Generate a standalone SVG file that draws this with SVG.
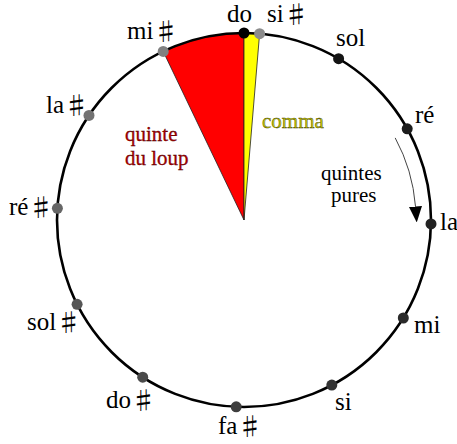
<svg xmlns="http://www.w3.org/2000/svg" width="457" height="444" viewBox="0 0 457 444">
  <style>
    text { font-family: 'Liberation Serif', 'Times New Roman', 'DejaVu Serif', serif; }
    .lbl { font-size: 25px; fill: #000; }
    .sh { font-family: 'Noto Sans CJK JP', 'DejaVu Sans', sans-serif; font-size: 25px; }
    .txt { font-size: 21px; }
    .dot { stroke: none; }
    .wedge { stroke: #222; stroke-width: 0.8; stroke-linejoin: round; }
  </style>
  <defs>
    <marker id="arrowhead" viewBox="0 0 16 13" refX="0" refY="6.5" markerWidth="16" markerHeight="13" markerUnits="userSpaceOnUse" orient="auto">
      <path d="M0,0 L16,6.5 L0,13 Z" fill="#000"/>
    </marker>
  </defs>
  <rect width="457" height="444" fill="#fff"/>

  <g id="wedges">
    <path id="loup" class="wedge" d="M244,220 L163.2,51.4 A187,187 0 0,1 244,33 Z" fill="#ff0000"/>
    <path id="comma-wedge" class="wedge" d="M244,220 L244,33 A187,187 0 0,1 259.6,33.7 Z" fill="#ffff00"/>
  </g>

  <g id="connectors">
    <circle cx="244" cy="220" r="187" fill="none" stroke="#000" stroke-width="2.6"/>
    <path d="M395.2,137.9 A172,172 0 0,1 415.5,206.5" fill="none" stroke="#444" stroke-width="1" marker-end="url(#arrowhead)"/>
  </g>

  <g id="n-do"><circle class="dot" cx="244" cy="33" r="5.5" fill="#000"/><text class="lbl" x="239.5" y="22" text-anchor="middle">do</text></g>
  <g id="n-sol"><circle class="dot" cx="338.6" cy="58.7" r="5.5" fill="#141414"/><text class="lbl" x="336" y="46">sol</text></g>
  <g id="n-re"><circle class="dot" cx="407.2" cy="128.8" r="5.5" fill="#1c1c1c"/><text class="lbl" x="415" y="123">ré</text></g>
  <g id="n-la"><circle class="dot" cx="431" cy="223.9" r="5.5" fill="#222"/><text class="lbl" x="440" y="230">la</text></g>
  <g id="n-mi"><circle class="dot" cx="403.3" cy="318" r="5.5" fill="#2a2a2a"/><text class="lbl" x="414" y="333">mi</text></g>
  <g id="n-si"><circle class="dot" cx="331.8" cy="385.1" r="5.5" fill="#333"/><text class="lbl" x="335" y="410">si</text></g>
  <g id="n-fas"><circle class="dot" cx="236.2" cy="406.8" r="5.5" fill="#3e3e3e"/><text class="lbl" x="218" y="434">fa<tspan class="sh" dy="2">♯</tspan></text></g>
  <g id="n-dos"><circle class="dot" cx="142.7" cy="377.2" r="5.5" fill="#4a4a4a"/><text class="lbl" x="106" y="408">do<tspan class="sh" dy="2">♯</tspan></text></g>
  <g id="n-sols"><circle class="dot" cx="77.1" cy="304.3" r="5.5" fill="#565656"/><text class="lbl" x="27" y="330">sol<tspan class="sh" dy="2">♯</tspan></text></g>
  <g id="n-res"><circle class="dot" cx="57.4" cy="208.3" r="5.5" fill="#666"/><text class="lbl" x="9" y="215">ré<tspan class="sh" dy="2">♯</tspan></text></g>
  <g id="n-las"><circle class="dot" cx="89" cy="115.4" r="5.5" fill="#737373"/><text class="lbl" x="46" y="113">la<tspan class="sh" dy="2">♯</tspan></text></g>
  <g id="n-mis"><circle class="dot" cx="163.2" cy="51.4" r="5.5" fill="#808080"/><text class="lbl" x="127" y="39">mi<tspan class="sh" dy="2">♯</tspan></text></g>
  <g id="n-sis"><circle class="dot" cx="259.6" cy="33.7" r="5.5" fill="#8c8c8c"/><text class="lbl" x="267" y="22">si<tspan class="sh" dy="2">♯</tspan></text></g>

  <g id="annotations">
    <text class="txt" x="125" y="141" fill="#b00000" stroke="#400000" stroke-width="0.3">quinte</text>
    <text class="txt" x="125" y="165" fill="#b00000" stroke="#400000" stroke-width="0.3">du loup</text>
    <text class="txt" x="262" y="128" fill="#c8c800" stroke="#3a3a00" stroke-width="0.4">comma</text>
    <text class="txt" x="321" y="180" fill="#000">quintes</text>
    <text class="txt" x="331" y="202" fill="#000">pures</text>
  </g>
</svg>
